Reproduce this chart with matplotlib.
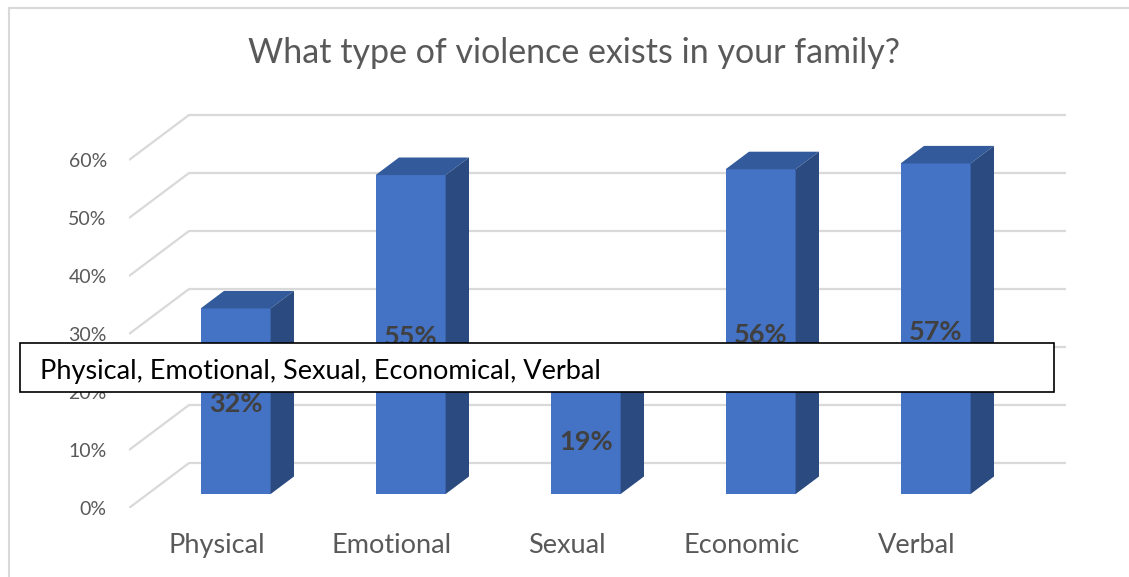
import matplotlib
matplotlib.use("Agg")
import matplotlib.pyplot as plt
from matplotlib.patches import Polygon
from matplotlib.lines import Line2D

# data
categories = ['Physical', 'Emotional', 'Sexual', 'Economic', 'Verbal']
values = [0.32, 0.55, 0.19, 0.56, 0.57]
y_ticks = [0.0, 0.1, 0.2, 0.3, 0.4, 0.5, 0.6]
y_tick_labels = ['0%', '10%', '20%', '30%', '40%', '50%', '60%']
title = 'What type of violence exists in your family?'
note = 'Physical, Emotional, Sexual, Economical, Verbal'

plt.rcParams['font.family'] = ['Lato', 'DejaVu Sans']

W, H = 1129, 577
fig = plt.figure(figsize=(W / 100, H / 100), dpi=100)

# layout in pixels: category spacing and value scale
cat_px = 175.0
unit_px = 580.0
x_cat0 = 217.0      # category 0 on the front plane
y_zero = 508.0      # 0% on the front plane (from top)
left_px = 129.0

ax = fig.add_axes([left_px / W, (H - y_zero) / H, 1 - left_px / W, y_zero / H])
ax.set_xlim((left_px - x_cat0) / cat_px, (W - x_cat0) / cat_px)
ax.set_ylim(0, y_zero / unit_px)
for s in ax.spines.values():
    s.set_visible(False)

# oblique depth of the plot box
DX = 60 / cat_px
DY = 45 / unit_px
z0, z1 = 0.31, 0.70
bw = 70 / cat_px
wall_left = ax.get_xlim()[0]
wall_right = (1066 - x_cat0) / cat_px

grid_c = '#D9D9D9'
for t in y_ticks:
    ax.plot([wall_left, wall_left + DX, wall_right], [t, t + DY, t + DY],
            color=grid_c, lw=1.6, solid_capstyle='butt', zorder=1)

front_c = '#4472C4'
top_c = '#335A9A'
side_c = '#2A4A80'
bx = [i + z0 * DX for i in range(len(values))]
base = z0 * DY
ax.bar(bx, values, bottom=base, width=bw, color=front_c, zorder=3)
ddx = (z1 - z0) * DX
ddy = (z1 - z0) * DY
for x, v in zip(bx, values):
    xl, xr = x - bw / 2, x + bw / 2
    top = base + v
    ax.add_patch(Polygon([(xl, top), (xr, top), (xr + ddx, top + ddy), (xl + ddx, top + ddy)],
                         closed=True, color=top_c, lw=0, zorder=3))
    ax.add_patch(Polygon([(xr, base), (xr + ddx, base + ddy), (xr + ddx, top + ddy), (xr, top)],
                         closed=True, color=side_c, lw=0, zorder=3))
    ax.text(x, base + v / 2 - 0.005, f'{round(v * 100)}%', ha='center', va='center',
            fontsize=19.5, fontweight='bold', color='#404040', zorder=4)

ax.set_yticks(y_ticks)
ax.set_yticklabels(y_tick_labels, fontsize=14, color='#595959')
ax.set_xticks(range(len(categories)))
ax.set_xticklabels(categories, fontsize=19.5, color='#595959')
ax.tick_params(axis='y', length=0, pad=16)
ax.tick_params(axis='x', length=0, pad=18)

# chart area border (top and left visible)
fig.add_artist(Line2D([9 / W, 1], [1 - 8 / H, 1 - 8 / H], color=grid_c, lw=1.5))
fig.add_artist(Line2D([9 / W, 9 / W], [0, 1 - 8 / H], color=grid_c, lw=1.5))

fig.text(574 / W, 1 - 53 / H, title, ha='center', va='center', fontsize=24.5,
         color='#595959')

# overlaid text box
fig.text(40 / W, 1 - 372 / H, note, ha='left', va='center', fontsize=19.5, color='black',
         zorder=10)
fig.add_artist(plt.Rectangle((20 / W, 1 - 392 / H), (1054 - 20) / W, (392 - 343) / H,
                             fc='white', ec='black', lw=1.2, zorder=9))

fig.savefig('out.png', dpi=100)
